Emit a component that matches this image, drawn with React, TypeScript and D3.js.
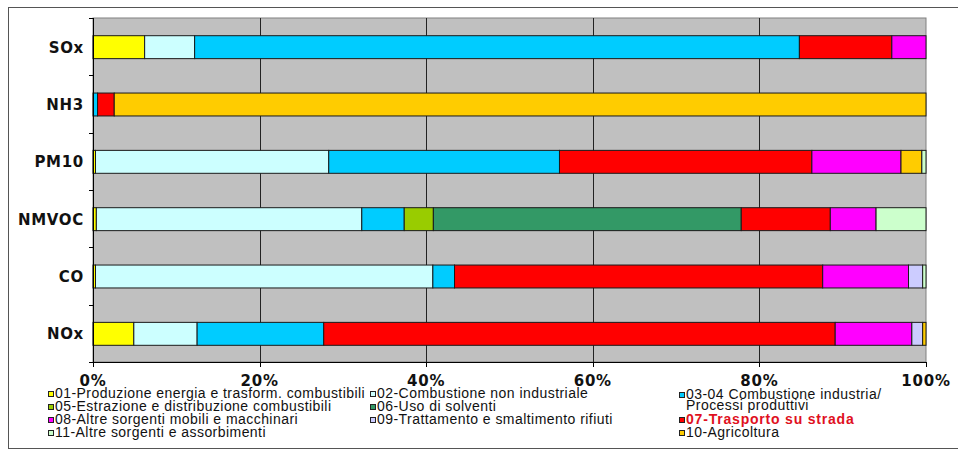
import React from "react";
import * as d3 from "d3";

// Pollutants, top to bottom
const categories = ["SOx", "NH3", "PM10", "NMVOC", "CO", "NOx"];

// Share (%) of each emission macro-sector for every pollutant
const s01 = [6.2, 0, 0.3, 0.4, 0.3, 4.9];
const s02 = [6.0, 0, 28.0, 31.9, 40.5, 7.6];
const s0304 = [72.6, 0.55, 27.7, 5.1, 2.6, 15.2];
const s05 = [0, 0, 0, 3.5, 0, 0];
const s06 = [0, 0, 0, 37.0, 0, 0];
const s07 = [11.1, 2.0, 30.3, 10.7, 44.2, 61.4];
const s08 = [4.1, 0, 10.7, 5.5, 10.3, 9.2];
const s09 = [0, 0, 0, 0, 1.7, 1.3];
const s10 = [0, 97.45, 2.5, 0, 0, 0.4];
const s11 = [0, 0, 0.5, 6.0, 0.4, 0];

const xTicks = [0, 0.2, 0.4, 0.6, 0.8, 1];

type Series = { key: string; label: string[]; color: string; values: number[]; bold?: boolean };

const series: Series[] = [
  { key: "s01", label: ["01-Produzione energia e trasform. combustibili"], color: "#ffff00", values: s01 },
  { key: "s02", label: ["02-Combustione non industriale"], color: "#ccffff", values: s02 },
  { key: "s0304", label: ["03-04 Combustione industria/", "Processi produttivi"], color: "#00ccff", values: s0304 },
  { key: "s05", label: ["05-Estrazione e distribuzione combustibili"], color: "#99cc00", values: s05 },
  { key: "s06", label: ["06-Uso di solventi"], color: "#339966", values: s06 },
  { key: "s07", label: ["07-Trasporto su strada"], color: "#ff0000", values: s07, bold: true },
  { key: "s08", label: ["08-Altre sorgenti mobili e macchinari"], color: "#ff00ff", values: s08 },
  { key: "s09", label: ["09-Trattamento e smaltimento rifiuti"], color: "#ccccff", values: s09 },
  { key: "s10", label: ["10-Agricoltura"], color: "#ffcc00", values: s10 },
  { key: "s11", label: ["11-Altre sorgenti e assorbimenti"], color: "#ccffcc", values: s11 },
];

// Legend grid placement (column, row) for each sector
const legendSlots: Record<string, [number, number]> = {
  s01: [0, 0],
  s02: [1, 0],
  s0304: [2, 0],
  s05: [0, 1],
  s06: [1, 1],
  s08: [0, 2],
  s09: [1, 2],
  s07: [2, 2],
  s11: [0, 3],
  s10: [2, 3],
};

const W = 958;
const H = 452;
const plot = { left: 93, right: 926, top: 18, bottom: 362 };

export default function App() {
  const rows = categories.map((c, i) => {
    const r: Record<string, number | string> = { cat: c };
    series.forEach((s) => (r[s.key] = s.values[i]));
    return r;
  });

  const stack = d3
    .stack<Record<string, number | string>>()
    .keys(series.map((s) => s.key))
    .value((d, k) => d[k] as number)
    .offset(d3.stackOffsetExpand);
  const layers = stack(rows);

  const x = d3.scaleLinear().domain([0, 1]).range([plot.left, plot.right]);
  const y = d3
    .scaleBand<string>()
    .domain(categories)
    .range([plot.top + 0.5, plot.bottom + 0.5])
    .paddingInner(0.6)
    .paddingOuter(0.3);

  const step = y.step();
  const bandEdges = d3.range(categories.length + 1).map((i) => plot.top + i * step);

  const colX = [48, 370, 679];
  const rowY = [398, 411, 424, 437];

  return (
    <svg
      width={W}
      height={H}
      style={{ position: "absolute", left: 0, top: 0, background: "#fff" }}
      fontFamily="'Liberation Sans', Arial, sans-serif"
    >
      {/* outer frame */}
      <rect x={8.5} y={7.5} width={W + 10} height={441} fill="#fff" stroke="#555" strokeWidth={1} />

      {/* plot background */}
      <rect
        x={plot.left}
        y={plot.top}
        width={plot.right - plot.left}
        height={plot.bottom - plot.top}
        fill="#c0c0c0"
        stroke="#808080"
        strokeWidth={1}
      />

      {/* vertical gridlines */}
      {xTicks.slice(1, -1).map((t) => (
        <line
          key={t}
          x1={Math.round(x(t)) + 0.5}
          x2={Math.round(x(t)) + 0.5}
          y1={plot.top}
          y2={plot.bottom}
          stroke="#222"
          strokeWidth={1}
        />
      ))}

      {/* stacked bars */}
      {layers.map((layer, li) =>
        layer.map((seg, i) => {
          const w = x(seg[1]) - x(seg[0]);
          if (w <= 0.01) return null;
          return (
            <rect
              key={`${li}-${i}`}
              x={x(seg[0])}
              y={y(categories[i])!}
              width={w}
              height={y.bandwidth()}
              fill={series[li].color}
              stroke="#1a1a1a"
              strokeWidth={1}
            />
          );
        })
      )}

      {/* axes */}
      <line x1={plot.left + 0.5} x2={plot.left + 0.5} y1={plot.top} y2={plot.bottom + 0.5} stroke="#000" />
      <line x1={plot.left} x2={plot.right + 0.5} y1={plot.bottom + 0.5} y2={plot.bottom + 0.5} stroke="#000" />
      {bandEdges.map((e, i) => (
        <line key={i} x1={plot.left - 4} x2={plot.left} y1={Math.round(e) + 0.5} y2={Math.round(e) + 0.5} stroke="#000" />
      ))}
      {xTicks.map((t) => (
        <line
          key={t}
          x1={Math.round(x(t)) + 0.5}
          x2={Math.round(x(t)) + 0.5}
          y1={plot.bottom}
          y2={plot.bottom + 5}
          stroke="#000"
        />
      ))}

      {/* category labels */}
      {categories.map((c) => (
        <text
          key={c}
          x={84}
          y={y(c)! + y.bandwidth() / 2}
          dy="0.36em"
          textAnchor="end"
          fontFamily="'DejaVu Sans', Verdana, sans-serif"
          fontWeight="bold"
          fontSize={15}
          letterSpacing={0.7}
          fill="#111"
        >
          {c}
        </text>
      ))}

      {/* x tick labels */}
      {xTicks.map((t) => (
        <text
          key={t}
          x={x(t)}
          y={385.5}
          textAnchor="middle"
          fontFamily="'DejaVu Sans', Verdana, sans-serif"
          fontWeight="bold"
          fontSize={15}
          letterSpacing={0.8}
          fill="#111"
        >
          {d3.format(".0%")(t)}
        </text>
      ))}

      {/* legend */}
      {series.map((s) => {
        const [c, r] = legendSlots[s.key];
        const lx = colX[c];
        const ly = rowY[r] + (c === 2 && r === 0 ? 1 : 0);
        return (
          <g key={s.key}>
            <rect x={lx + 0.5} y={ly - 6.5} width={5} height={5} fill={s.color} stroke="#222" strokeWidth={1} />
            <text
              x={lx + 7}
              y={ly}
              fontSize={14}
              letterSpacing={s.bold ? 0.8 : 0.45}
              fontWeight={s.bold ? "bold" : "normal"}
              fill={s.bold ? "#e0101e" : "#111"}
            >
              {s.label[0]}
            </text>
            {s.label[1] && (
              <text x={lx + 7} y={ly + 11} fontSize={14} letterSpacing={0.45} fill="#111">
                {s.label[1]}
              </text>
            )}
          </g>
        );
      })}
    </svg>
  );
}
